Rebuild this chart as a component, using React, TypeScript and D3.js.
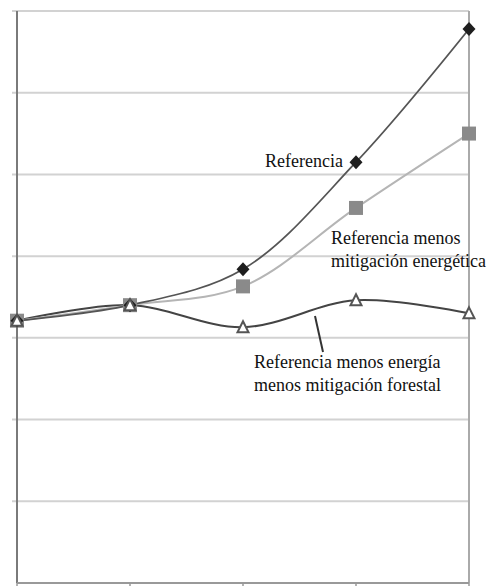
import { useEffect, useRef } from "react";
import * as d3 from "d3";

const categories = ["P1", "P2", "P3", "P4", "P5"];
const yTicks = [0, 1, 2, 3, 4, 5, 6, 7];

const referencia = [3.21, 3.4, 3.84, 5.15, 6.78];
const menosEnergetica = [3.21, 3.4, 3.63, 4.59, 5.5];
const menosForestal = [3.21, 3.4, 3.13, 3.46, 3.3];

export default function App() {
  const svgRef = useRef<SVGSVGElement | null>(null);

  useEffect(() => {
    if (!svgRef.current) return;
    const svg = d3.select(svgRef.current);
    svg.selectAll("*").remove();

    const w = 495;
    const h = 586;
    const left = 17;
    const right = 469;
    const top = 11;
    const bottom = 583;

    const x = d3.scalePoint().domain(categories).range([left, right]);
    const y = d3.scaleLinear().domain([0, 7]).range([bottom, top]);

    svg.attr("width", w).attr("height", h).attr("viewBox", `0 0 ${w} ${h}`);
    svg.append("rect").attr("width", w).attr("height", h).attr("fill", "white");

    // gridlines
    svg
      .append("g")
      .selectAll("line")
      .data(yTicks.filter((t) => t > 0))
      .join("line")
      .attr("x1", left - 5)
      .attr("x2", right)
      .attr("y1", (d) => y(d))
      .attr("y2", (d) => y(d))
      .attr("stroke", "#d2d2d2")
      .attr("stroke-width", 2);

    // right border
    svg
      .append("line")
      .attr("x1", right)
      .attr("x2", right)
      .attr("y1", top)
      .attr("y2", bottom)
      .attr("stroke", "#aaa")
      .attr("stroke-width", 2);

    // left axis
    svg
      .append("line")
      .attr("x1", left)
      .attr("x2", left)
      .attr("y1", top)
      .attr("y2", bottom)
      .attr("stroke", "#7a7a7a")
      .attr("stroke-width", 2);

    // bottom axis
    svg
      .append("line")
      .attr("x1", left)
      .attr("x2", right)
      .attr("y1", bottom)
      .attr("y2", bottom)
      .attr("stroke", "#999")
      .attr("stroke-width", 2);
    svg
      .append("g")
      .selectAll("line")
      .data(categories)
      .join("line")
      .attr("x1", (d) => x(d)!)
      .attr("x2", (d) => x(d)!)
      .attr("y1", bottom)
      .attr("y2", h)
      .attr("stroke", "#999")
      .attr("stroke-width", 1.5);

    const line = d3
      .line<number>()
      .x((_, i) => x(categories[i])!)
      .y((d) => y(d))
      .curve(d3.curveCatmullRom.alpha(0.5));

    const series = [
      { values: menosForestal, stroke: "#444", width: 2 },
      { values: menosEnergetica, stroke: "#b5b5b5", width: 2 },
      { values: referencia, stroke: "#555", width: 1.8 },
    ];
    series.forEach((s) => {
      svg
        .append("path")
        .attr("d", line(s.values))
        .attr("fill", "none")
        .attr("stroke", s.stroke)
        .attr("stroke-width", s.width);
    });

    // square markers
    svg
      .append("g")
      .selectAll("rect")
      .data(menosEnergetica)
      .join("rect")
      .attr("x", (_, i) => x(categories[i])! - 7)
      .attr("y", (d) => y(d) - 7)
      .attr("width", 14)
      .attr("height", 14)
      .attr("fill", "#8a8a8a");

    // diamond markers
    svg
      .append("g")
      .selectAll("path")
      .data(referencia)
      .join("path")
      .attr("d", "M0,-7L6.5,0L0,7L-6.5,0Z")
      .attr("transform", (d, i) => `translate(${x(categories[i])},${y(d)})`)
      .attr("fill", "#1e1e1e");

    // triangle markers
    svg
      .append("g")
      .selectAll("path")
      .data(menosForestal)
      .join("path")
      .attr("d", "M0,-6L5.5,5L-5.5,5Z")
      .attr("transform", (d, i) => `translate(${x(categories[i])},${y(d)})`)
      .attr("fill", "white")
      .attr("stroke", "#555")
      .attr("stroke-width", 2);

    // leader line
    svg
      .append("line")
      .attr("x1", 315)
      .attr("y1", 316)
      .attr("x2", 323)
      .attr("y2", 352)
      .attr("stroke", "#333")
      .attr("stroke-width", 2);

    const labels = [
      { text: "Referencia", x: 265, y: 167 },
      { text: "Referencia menos", x: 331, y: 244 },
      { text: "mitigación energética", x: 331, y: 267 },
      { text: "Referencia menos energía", x: 254, y: 368 },
      { text: "menos mitigación forestal", x: 254, y: 391 },
    ];
    svg
      .append("g")
      .selectAll("text")
      .data(labels)
      .join("text")
      .attr("x", (d) => d.x)
      .attr("y", (d) => d.y)
      .style("font-family", "Liberation Serif, DejaVu Serif, Times New Roman, serif")
      .attr("font-size", 18)
      .attr("fill", "#111")
      .text((d) => d.text);
  }, []);

  return (
    <svg
      ref={svgRef}
      style={{ position: "absolute", left: 0, top: 0, display: "block" }}
    />
  );
}
